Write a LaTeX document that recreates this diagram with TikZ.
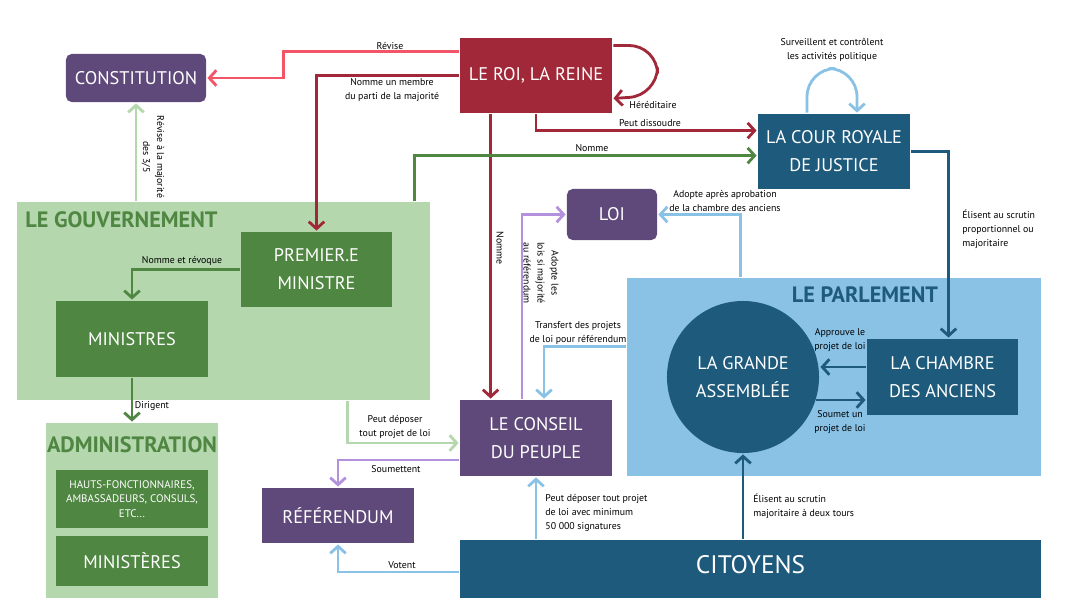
\documentclass[tikz,border=0pt]{standalone}
\usepackage{fontspec}
\setmainfont{PT Sans}
\usetikzlibrary{arrows.meta,calc}
\definecolor{cpurple}{HTML}{5F497A}
\definecolor{clpurple}{HTML}{B491DC}
\definecolor{cred}{HTML}{A02838}
\definecolor{cpink}{HTML}{F25468}
\definecolor{cdblue}{HTML}{1E5A7C}
\definecolor{clblue}{HTML}{89C2E5}
\definecolor{cdgreen}{HTML}{4F8641}
\definecolor{clgreen}{HTML}{B4D7AE}
\begin{document}
\begin{tikzpicture}[x=0.025cm, y=-0.025cm, >={Straight Barb[length=5pt,width=11pt]}, line width=2pt,
    block/.style={rectangle, fill=#1, text=white, align=center, inner sep=0pt, font=\fontsize{13}{20}\selectfont},
    frame/.style={rectangle, fill=#1, inner sep=0pt},
    title/.style={text=#1, inner sep=0pt, font=\bfseries\fontsize{15.8}{17}\selectfont},
    note/.style={align=center, inner sep=0pt, font=\fontsize{7}{10}\selectfont}]

    \useasboundingbox (0,0) rectangle (1067,598);

    \node[frame=clgreen, minimum width=10.325cm, minimum height=4.95cm] (gouv) at (223.5,301) {};
    \node[frame=clgreen, minimum width=4.3cm, minimum height=4.5cm] (admin) at (132,513) {};
    \node[frame=clblue, minimum width=10.35cm, minimum height=4.95cm] (parlement) at (834,377) {};
    \node[title=cdgreen, anchor=west] (gouvtitle) at (24,220) {LE GOUVERNEMENT};
    \node[title=cdgreen] (admintitle) at (132,445) {ADMINISTRATION};
    \node[title=cdblue] (parltitle) at (865,295) {LE PARLEMENT};

    \node[block=cpurple, rounded corners=4pt, minimum width=3.5cm, minimum height=1.2cm] (constitution) at (136,78) {CONSTITUTION};
    \node[block=cred, minimum width=3.8cm, minimum height=1.875cm] (roi) at (536,75.5) {LE ROI, LA REINE};
    \node[block=cdblue, minimum width=3.8cm, minimum height=1.875cm] (cour) at (834,151.5) {LA COUR ROYALE\\DE JUSTICE};
    \node[block=cdgreen, minimum width=3.775cm, minimum height=1.875cm] (pm) at (316.5,269.5) {PREMIER.E\\MINISTRE};
    \node[block=cdgreen, minimum width=3.8cm, minimum height=1.9cm] (ministres) at (132,339) {MINISTRES};
    \node[block=cdgreen, minimum width=3.8cm, minimum height=1.45cm, font=\fontsize{7.8}{10.5}\selectfont] (hauts) at (132,499) {HAUTS-FONCTIONNAIRES,\\AMBASSADEURS, CONSULS,\\ETC...};
    \node[block=cdgreen, minimum width=3.8cm, minimum height=1.25cm] (ministeres) at (132,561) {MINISTÈRES};
    \node[block=cpurple, rounded corners=4pt, minimum width=2.25cm, minimum height=1.275cm] (loi) at (612,214.5) {LOI};
    \node[block=cdblue, circle, minimum size=3.8cm] (ga) at (743,377) {LA GRANDE\\ASSEMBLÉE};
    \node[block=cdblue, minimum width=3.775cm, minimum height=1.9cm] (chambre) at (942.5,377) {LA CHAMBRE\\DES ANCIENS};
    \node[block=cpurple, minimum width=3.8cm, minimum height=1.9cm] (conseil) at (536,438) {LE CONSEIL\\DU PEUPLE};
    \node[block=cpurple, minimum width=3.8cm, minimum height=1.375cm] (referendum) at (338,515.5) {RÉFÉRENDUM};
    \node[block=cdblue, minimum width=14.525cm, minimum height=1.6cm, text depth=10pt, font=\fontsize{18}{20}\selectfont] (citoyens) at (750.5,572) {CITOYENS};

    \draw[->, cpink] ($(roi.north west)+(0,15)$) -- ++(-175,0) |- (constitution.east);
    \draw[->, cred] (roi.west) -| (pm.north);
    \draw[->, cred] ($(roi.south west)+(32,0)$) -- ($(conseil.north west)+(32,0)$);
    \draw[->, cred, rounded corners=20] ($(roi.north east)+(0,9)$) -- ++(44,0) -- ++(0,50) -- ($(roi.south east)+(0,-16)$);
    \draw[->, cred] (roi.south) |- ($(cour.north west)+(0,18)$);
    \draw[->, cdgreen] ($(gouv.north east)+(-17,0)$) |- ($(cour.north west)+(0,43)$);
    \draw[->, clblue, rounded corners=20] ($(cour.north)+(-27,0)$) -- ++(0,-44) -- ++(50,0) -- ($(cour.north)+(23,0)$);
    \draw[->, cdblue] (cour.east) -| ($(chambre.north)+(6,0)$);
    \draw[->, cdblue] ($(chambre.west)+(0,-10)$) -- ($(ga.east)+(0,-10)$);
    \draw[->, cdblue] ($(ga.east)+(-4,23)$) -- ($(chambre.west)+(0,23)$);
    \draw[->, clblue] ($(parlement.north west)+(115,0)$) |- (loi.east);
    \draw[->, clblue] ($(parlement.north west)+(0,70)$) -| ($(conseil.north)+(8,0)$);
    \draw[->, clpurple] ($(conseil.north)+(-14,0)$) |- (loi.west);
    \draw[->, clgreen] (constitution.south |- gouv.north) -- (constitution.south);
    \draw[->, cdgreen] (pm.west) -| (ministres.north);
    \draw[->, cdgreen] (ministres.south) -- (admin.north);
    \draw[->, clgreen] ($(gouv.south west)+(332,0)$) |- ($(conseil.west)+(0,5)$);
    \draw[->, clpurple] ($(conseil.west)+(0,22)$) -| (referendum.north);
    \draw[->, clblue] (citoyens.west) -| (referendum.south);
    \draw[->, clblue] (conseil.south |- citoyens.north) -- (conseil.south);
    \draw[->, cdblue] (ga.south |- citoyens.north) -- (ga.south);

    \node[note] (lblrevise) at (390,46) {Révise};
    \node[note] (lblmembre) at (392,90) {Nomme un membre\\du parti de la majorité};
    \node[note, anchor=west] (lblhered) at (628,105) {Héréditaire};
    \node[note] (lblsurv) at (832,50) {Surveillent et contrôlent\\les activités politique};
    \node[note] (lbldissoudre) at (650,123) {Peut dissoudre};
    \node[note] (lblnommecour) at (592,148) {Nomme};
    \node[note, rotate=-90] (lblrevise35) at (153,157) {Révise à la majorité\\des 3/5};
    \node[note, rotate=-90] (lblnommeconseil) at (500,248) {Nomme};
    \node[note] (lblrevoque) at (182,261) {Nomme et révoque};
    \node[note] (lbldirigent) at (152,406) {Dirigent};
    \node[note, rotate=-90] (lbladopteles) at (541,273) {Adopte les\\lois si majorité\\au référendum};
    \node[note] (lbladopteapres) at (725,201) {Adopte après aprobation\\de la chambre des anciens};
    \node[note, align=left, anchor=west] (lblproportionnel) at (961,229) {Élisent au scrutin\\proportionnel ou\\majoritaire};
    \node[note] (lbltransfert) at (578,333) {Transfert des projets\\de loi pour référendum};
    \node[note] (lblapprouve) at (840,340) {Approuve le\\projet de loi};
    \node[note] (lblsoumet) at (840,422) {Soumet un\\projet de loi};
    \node[note] (lbldeposer) at (395,427) {Peut déposer\\tout projet de loi};
    \node[note] (lblsoumettent) at (396,469) {Soumettent};
    \node[note] (lblvotent) at (402,565) {Votent};
    \node[note, align=left, anchor=west] (lblsignatures) at (544,513) {Peut déposer tout projet\\de loi avec minimum\\50 000 signatures};
    \node[note, align=left, anchor=west] (lbldeuxtours) at (752,506) {Élisent au scrutin\\majoritaire à deux tours};
\end{tikzpicture}
\end{document}
